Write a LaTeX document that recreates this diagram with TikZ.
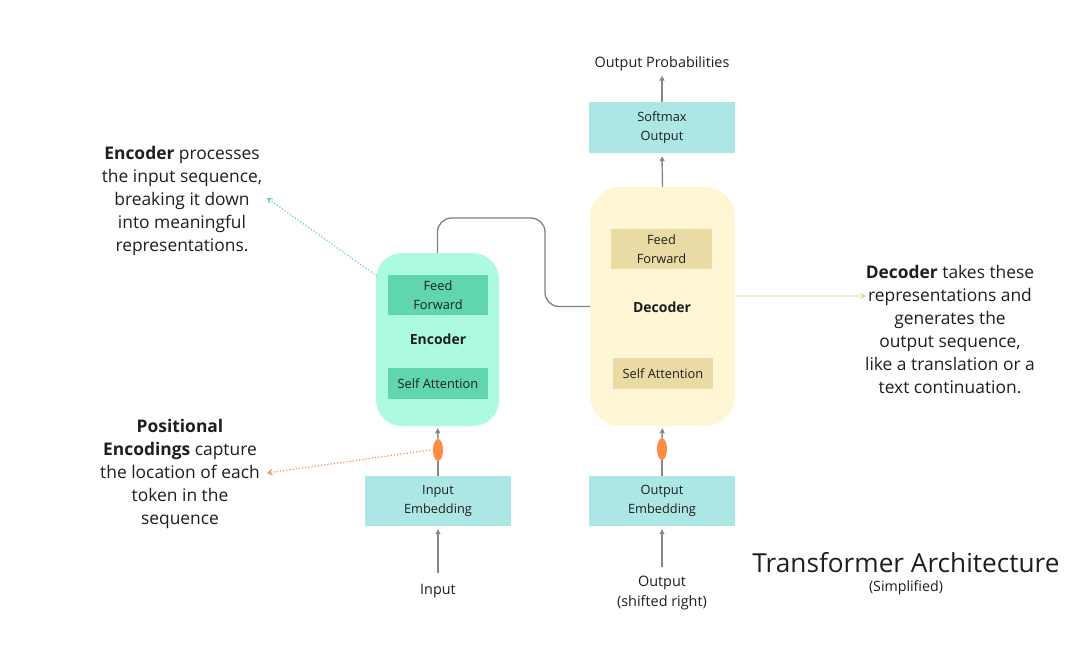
\documentclass[tikz,border=0pt]{standalone}
\usepackage{fontspec}
\setmainfont{Open Sans}
\usetikzlibrary{arrows.meta,shapes.geometric}
\definecolor{txt}{RGB}{30,30,30}
\definecolor{linegrey}{RGB}{135,135,135}
\definecolor{encfill}{RGB}{172,250,226}
\definecolor{encinner}{RGB}{96,214,176}
\definecolor{decfill}{RGB}{255,246,214}
\definecolor{decinner}{RGB}{234,219,164}
\definecolor{embfill}{RGB}{172,231,229}
\definecolor{peorange}{RGB}{255,140,66}
\definecolor{dotteal}{RGB}{100,210,178}
\definecolor{dotorange}{RGB}{240,140,80}
\definecolor{dotyellow}{RGB}{222,206,146}
\tikzset{
  box/.style={rectangle, inner sep=0pt, align=center, text=txt, font=\fontsize{12.8}{19}\selectfont},
  bigbox/.style={rectangle, rounded corners=26pt, inner sep=0pt},
  flow/.style={draw=linegrey, line width=1.4pt, -{Triangle[length=5pt,width=5pt]}},
  plain/.style={draw=linegrey, line width=1.4pt},
  pe/.style={ellipse, fill=peorange, inner sep=0pt, minimum width=10pt, minimum height=22pt},
  note/.style={align=center, text=txt, font=\fontsize{17.4}{23}\selectfont},
  lbl/.style={align=center, text=txt, font=\fontsize{14.4}{20}\selectfont},
  dotarrow/.style={line width=1.2pt, dotted, -{Straight Barb[length=4pt,width=5pt]}}
}
\begin{document}
\begin{tikzpicture}[x=1pt,y=-1pt]
\useasboundingbox (0,0) rectangle (1082,651);
% big blocks
\node[bigbox, fill=encfill, minimum width=123pt, minimum height=173pt] (enc) at (437.5,339.5) {};
\node[bigbox, fill=decfill, minimum width=145pt, minimum height=239pt, rounded corners=30pt] (dec) at (662.5,306.5) {};
% inner blocks
\node[box, fill=encinner, minimum width=100pt, minimum height=40pt] (encff) at (438,295) {Feed\\Forward};
\node[box, fill=encinner, minimum width=100pt, minimum height=31pt] (encsa) at (438,383.5) {Self Attention};
\node[text=txt, font=\fontsize{14}{16}\selectfont\bfseries] (enclbl) at (438,339) {Encoder};
\node[box, fill=decinner, minimum width=101pt, minimum height=40pt] (decff) at (661.5,249) {Feed\\Forward};
\node[box, fill=decinner, minimum width=100pt, minimum height=31pt] (decsa) at (663,373.5) {Self Attention};
\node[text=txt, font=\fontsize{14}{16}\selectfont\bfseries] (declbl) at (662,307) {Decoder};
% embeddings and softmax
\node[box, fill=embfill, minimum width=146pt, minimum height=51pt] (soft) at (662,127.5) {Softmax\\Output};
\node[box, fill=embfill, minimum width=146pt, minimum height=50pt] (inemb) at (438,501) {Input\\Embedding};
\node[box, fill=embfill, minimum width=146pt, minimum height=50pt] (outemb) at (662,501) {Output\\Embedding};
% positional encodings
\node[pe] (pe1) at (438,450) {};
\node[pe] (pe2) at (662,449) {};
% labels
\node[lbl] (input) at (438,591) {Input};
\node[lbl] (output) at (662,593) {Output\\(shifted right)};
\node[lbl] (prob) at (662,64) {Output Probabilities};
% flow arrows
\draw[flow, shorten <=8pt, shorten >=3pt] (input) -- (inemb);
\draw[flow, shorten <=6pt, shorten >=3pt] (output) -- (outemb);
\draw[plain] (inemb.north) -- (pe1.south);
\draw[plain] (outemb.north) -- (pe2.south);
\draw[flow, shorten >=2pt] (pe1.north) -- (enc.south);
\draw[flow, shorten >=2pt] (pe2.north) -- (dec.south);
\draw[flow, shorten >=3pt] (dec.north) -- (soft.south);
\draw[flow, shorten >=1pt] (soft.north) -- (prob.south);
% encoder to decoder
\coordinate (jog) at (545,218);
\draw[plain, line width=1.3pt, draw=linegrey!95!black, rounded corners=14pt] (enc.north) |- (jog) |- (dec.west);
% notes
\node[note] (encnote) at (182,201) {\textbf{Encoder} processes\\the input sequence,\\breaking it down\\into meaningful\\representations.};
\node[note] (penote) at (180,474) {\textbf{Positional}\\\textbf{Encodings} capture\\the location of each\\token in the\\sequence};
\node[note] (decnote) at (950,329.5) {\textbf{Decoder} takes these\\representations and\\generates the\\output sequence,\\like a translation or a\\text continuation.};
\node[text=txt, font=\fontsize{26.2}{28}\selectfont] (title) at (906,563) {Transformer Architecture};
\node[text=txt, font=\fontsize{14.2}{15}\selectfont] (sub) at (906,588) {(Simplified)};
% dotted pointers
\coordinate (encfrom) at (377,276);
\coordinate (encto) at (267,198);
\coordinate (pefrom) at (430,450);
\coordinate (peto) at (267,473);
\coordinate (decfrom) at (737,296);
\coordinate (decto) at (866,296);
\draw[dotarrow, draw=dotteal] (encfrom) -- (encto);
\draw[dotarrow, draw=dotorange] (pefrom) -- (peto);
\draw[dotarrow, draw=dotyellow] (decfrom) -- (decto);
\end{tikzpicture}
\end{document}
